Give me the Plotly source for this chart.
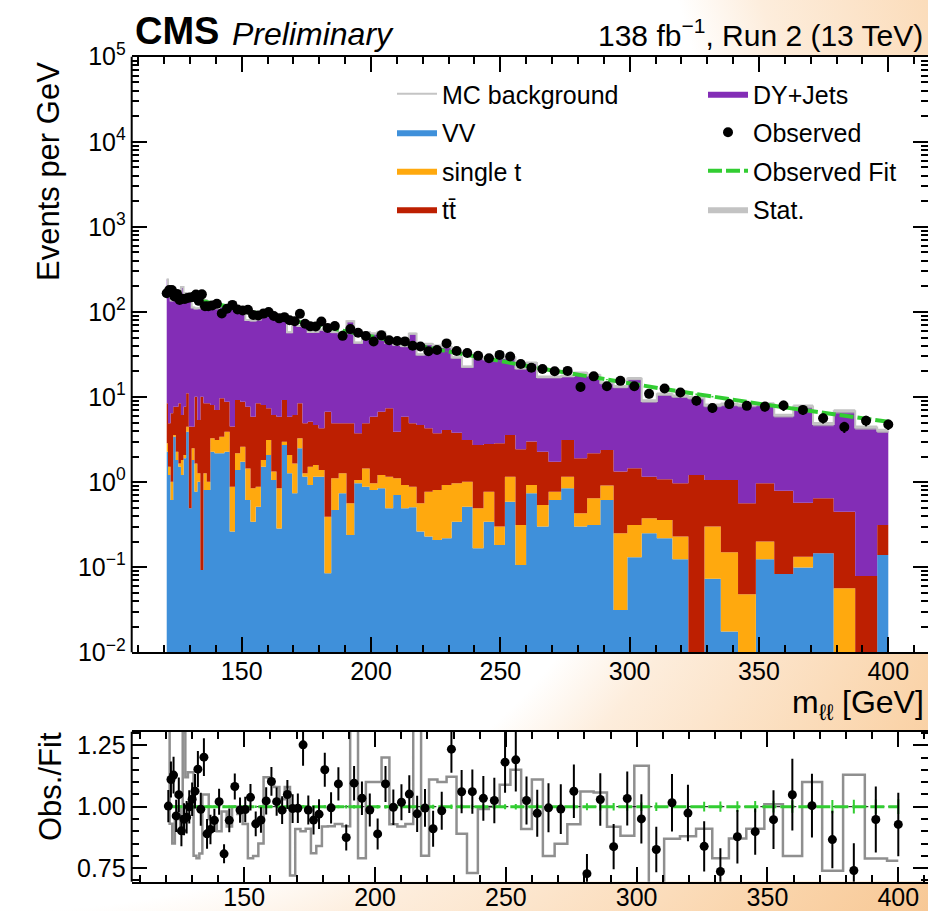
import base64
import numpy as np
import plotly.graph_objects as go

# ---------------------------------------------------------------------------
# Dilepton invariant mass spectrum: per-process MC yields (events / GeV),
# observed data and the fitted background shape, evaluated at each mass point.
# ---------------------------------------------------------------------------
mass = [121.0, 122.0, 123.0, 124.0, 125.0, 126.0, 127.0, 128.0, 129.0, 130.1,
        131.2, 132.3, 133.4, 134.6, 135.8, 137.1, 138.6, 140.4, 142.3, 144.3,
        146.4, 148.4, 150.4, 152.4, 154.4, 156.4, 158.4, 160.4, 162.4, 164.5,
        166.5, 168.5, 170.5, 172.5, 174.5, 176.5, 178.6, 180.8, 183.2, 186.0,
        189.0, 192.0, 195.0, 198.0, 201.0, 204.0, 207.0, 210.1, 213.1, 216.1,
        219.1, 222.2, 225.5, 229.2, 233.1, 237.2, 241.4, 245.6, 249.7, 253.8,
        257.9, 262.0, 266.3, 271.0, 276.0, 281.0, 286.1, 291.2, 296.4, 301.8,
        307.5, 313.5, 319.6, 325.8, 332.0, 338.5, 345.3, 352.3, 359.5, 367.0,
        374.8, 383.0, 391.4, 400.0]

vv = [2.28, 1.21, 0.617, 3.42, 1.82, 1.52, 1.21, 1.91, 3.92, 0.493,
      1.82, 0.77, 1.01, 0.093, 0.81, 0.81, 2.28, 2.18, 2.18, 2.28,
      0.262, 1.39, 1.74, 0.617, 0.343, 0.514, 1.52, 2.08, 1.06, 0.286,
      2.73, 1.27, 0.74, 2.50, 1.16, 0.925, 1.16, 1.16, 0.085, 0.471,
      0.74, 0.239, 0.97, 0.885, 0.81, 0.85, 0.493, 0.706, 0.493, 0.506,
      0.262, 0.229, 0.209, 0.219, 0.343, 0.514, 0.167, 0.343, 0.183, 0.589,
      0.106, 0.74, 0.30, 0.617, 0.85, 0.30, 0.313, 0.617, 0.0314, 0.131,
      0.25, 0.219, 0.124, 0.0, 0.073, 0.0175, 0.0, 0.124, 0.083, 0.099,
      0.146, 0.0, 0.0, 0.139]

single_t = [0.58, 0.31, 0.393, 0.16, 0.46, 0.14, 0.61, 0.17, 0.57, 0.0,
            0.68, 0.89, 0.26, 0.0, 0.46, 0.20, 0.99, 0.95, 1.24, 1.64,
            0.623, 0.79, 0.87, 0.833, 0.507, 0.371, 0.30, 1.05, 0.27, 0.564,
            0.26, 0.81, 0.92, 0.77, 0.11, 0.595, 0.43, 0.23, 0.308, 0.639,
            0.53, 0.325, 0.09, 0.565, 0.16, 0.36, 0.667, 0.404, 0.432, 0.379,
            0.302, 0.541, 0.601, 0.706, 0.627, 0.496, 0.326, 0.427, 0.117, 0.571,
            0.207, 0.185, 0.239, 0.153, 0.31, 0.13, 0.332, 0.293, 0.219, 0.182,
            0.126, 0.14, 0.105, 0.0, 0.227, 0.1325, 0.048, 0.076, 0.0, 0.034,
            0.0, 0.0565, 0.0, 0.0]

ttbar = [5.59, 3.40, 5.43, 4.13, 5.43, 6.79, 4.33, 5.63, 6.61, 4.00,
         1.99, 8.44, 4.10, 10.0, 7.18, 7.44, 4.80, 3.92, 6.24, 4.91,
         3.61, 7.05, 6.22, 6.26, 5.03, 7.57, 6.25, 4.25, 4.82, 5.03,
         6.24, 3.80, 4.49, 5.18, 3.65, 3.62, 3.11, 2.90, 6.34, 3.81,
         3.65, 4.36, 2.69, 3.47, 4.91, 5.52, 6.22, 2.81, 4.96, 4.04,
         4.14, 3.52, 2.94, 3.18, 2.83, 2.12, 2.24, 2.03, 2.56, 2.42,
         2.12, 2.08, 1.74, 0.97, 1.97, 1.48, 1.54, 1.48, 1.08, 1.14,
         0.784, 0.721, 0.741, 1.21, 0.76, 0.91, 0.516, 0.77, 0.707, 0.441,
         0.499, 0.3935, 0.079, 0.174]

dy_jets = [231.7, 146.7, 129.9, 142.3, 147.7, 132.3, 189.8, 158.4, 155.5, 159.2,
           108.4, 99.6, 105.1, 130.6, 129.6, 114.0, 109.1, 103.2, 107.0, 97.3,
           107.3, 96.0, 89.0, 73.0, 73.4, 73.3, 96.5, 92.3, 88.9, 82.0,
           80.2, 52.0, 64.9, 59.9, 62.2, 52.9, 53.7, 57.6, 53.2, 53.2,
           50.2, 72.6, 39.8, 53.2, 49.8, 51.6, 35.9, 37.2, 34.0, 50.7,
           26.9, 37.8, 36.2, 34.7, 25.4, 19.6, 26.5, 25.1, 26.0, 25.4,
           19.3, 22.2, 14.9, 15.5, 14.6, 17.2, 15.8, 12.3, 11.9, 15.0,
           7.82, 9.71, 9.24, 8.62, 6.92, 7.13, 7.42, 7.26, 5.27, 7.16,
           4.17, 6.34, 4.31, 3.69]

observed = [166, 181, 181, 152, 163, 138, 143, 142, 146, 148,
            150, 160, 135, 161, 117, 117, 119, 125, 96.2, 109,
            121, 107, 104, 106, 92.2, 91.0, 95.6, 99.9, 89.8, 84.1,
            86.9, 79.8, 77.6, 95.0, 72.7, 67.7, 67.4, 77.4, 64.8, 68.3,
            52.4, 62.9, 57.0, 52.1, 45.0, 53.1, 46.5, 45.5, 45.1, 40.0,
            39.3, 34.5, 35.7, 42.7, 34.8, 33.0, 30.5, 28.6, 31.3, 30.0,
            24.5, 22.1, 21.4, 20.1, 20.3, 13.1, 17.5, 13.4, 15.5, 13.4,
            10.9, 12.6, 11.3, 9.06, 7.44, 8.26, 7.88, 7.72, 7.95, 7.06,
            5.64, 4.45, 5.27, 4.76]

observed_rel_err = [0.065, 0.066, 0.066, 0.068, 0.067, 0.070, 0.069, 0.069, 0.068, 0.066,
                    0.066, 0.064, 0.068, 0.064, 0.068, 0.066, 0.050, 0.052, 0.048, 0.051,
                    0.049, 0.052, 0.052, 0.052, 0.054, 0.055, 0.054, 0.053, 0.056, 0.057,
                    0.056, 0.059, 0.060, 0.068, 0.060, 0.062, 0.062, 0.060, 0.064, 0.062,
                    0.060, 0.064, 0.066, 0.068, 0.071, 0.067, 0.072, 0.072, 0.073, 0.076,
                    0.077, 0.080, 0.079, 0.078, 0.083, 0.085, 0.088, 0.090, 0.105, 0.108,
                    0.095, 0.098, 0.100, 0.102, 0.102, 0.110, 0.104, 0.110, 0.106, 0.105,
                    0.112, 0.115, 0.118, 0.122, 0.128, 0.124, 0.105, 0.126, 0.139, 0.129,
                    0.135, 0.150, 0.142, 0.139]

fit = [165.6, 163.0, 160.4, 157.9, 155.4, 153.0, 150.7, 148.3, 146.1, 143.6,
       141.1, 138.8, 136.4, 134.0, 131.5, 128.9, 126.0, 122.5, 119.0, 115.4,
       111.8, 108.5, 105.2, 102.1, 99.1, 96.2, 93.4, 90.6, 88.0, 85.3,
       82.8, 80.4, 78.1, 75.9, 73.7, 71.6, 69.5, 67.3, 65.1, 62.5,
       59.9, 57.4, 55.1, 52.8, 50.6, 48.6, 46.6, 44.7, 42.9, 41.2,
       39.5, 37.9, 36.3, 34.6, 32.8, 31.1, 29.5, 27.9, 26.5, 25.2,
       23.9, 22.7, 21.5, 20.3, 19.1, 18.0, 17.0, 16.0, 15.0, 14.1,
       13.2, 12.4, 11.6, 10.8, 10.1, 9.41, 8.77, 8.15, 7.58, 7.03,
       6.51, 6.01, 5.56, 5.13]

fit_rel_err = [0.005, 0.005, 0.005, 0.005, 0.005, 0.005, 0.005, 0.005, 0.005, 0.005,
               0.005, 0.005, 0.005, 0.005, 0.005, 0.005, 0.005, 0.005, 0.005, 0.005,
               0.005, 0.005, 0.005, 0.005, 0.005, 0.005, 0.005, 0.005, 0.005, 0.005,
               0.006, 0.006, 0.006, 0.006, 0.006, 0.006, 0.006, 0.006, 0.006, 0.006,
               0.007, 0.007, 0.007, 0.007, 0.007, 0.007, 0.007, 0.007, 0.008, 0.008,
               0.008, 0.008, 0.009, 0.009, 0.009, 0.009, 0.010, 0.010, 0.010, 0.011,
               0.011, 0.012, 0.012, 0.013, 0.013, 0.014, 0.015, 0.015, 0.016, 0.017,
               0.017, 0.018, 0.019, 0.020, 0.021, 0.022, 0.023, 0.024, 0.025, 0.026,
               0.027, 0.028, 0.029, 0.030]

mc_stat_rel_err = [0.020, 0.020, 0.021, 0.020, 0.021, 0.021, 0.020, 0.021, 0.020, 0.022,
                   0.022, 0.022, 0.022, 0.023, 0.022, 0.023, 0.023, 0.023, 0.024, 0.024,
                   0.024, 0.024, 0.025, 0.025, 0.025, 0.026, 0.025, 0.026, 0.026, 0.026,
                   0.027, 0.027, 0.027, 0.028, 0.028, 0.028, 0.029, 0.029, 0.029, 0.030,
                   0.030, 0.030, 0.031, 0.031, 0.031, 0.032, 0.032, 0.033, 0.033, 0.033,
                   0.034, 0.034, 0.035, 0.035, 0.036, 0.036, 0.037, 0.037, 0.038, 0.038,
                   0.039, 0.039, 0.040, 0.041, 0.041, 0.042, 0.043, 0.043, 0.044, 0.045,
                   0.046, 0.046, 0.047, 0.048, 0.049, 0.050, 0.051, 0.052, 0.053, 0.054,
                   0.055, 0.056, 0.057, 0.058]

x_tick_vals = [150, 200, 250, 300, 350, 400]
x_minor_vals = [110, 120, 130, 140, 160, 170, 180, 190, 210, 220, 230, 240,
                260, 270, 280, 290, 310, 320, 330, 340, 360, 370, 380, 390, 410]
y_tick_vals = [1e-2, 1e-1, 1e0, 1e1, 1e2, 1e3, 1e4, 1e5]
y_tick_text = ["10<sup>\u22122</sup>", "10<sup>\u22121</sup>", "10<sup>0</sup>",
               "10<sup>1</sup>", "10<sup>2</sup>", "10<sup>3</sup>",
               "10<sup>4</sup>", "10<sup>5</sup>"]
ratio_tick_vals = [0.75, 1.00, 1.25]
ratio_tick_text = ["0.75", "1.00", "1.25"]
ratio_minor_vals = [0.70, 0.80, 0.85, 0.90, 0.95, 1.05, 1.10, 1.15, 1.20, 1.30]

# colours (CMS palette)
C_VV = "#3f90da"
C_ST = "#ffa90e"
C_TT = "#bd1f01"
C_DY = "#832db6"
C_FIT = "#32cd32"
FONT = "Liberation Sans"

W, H = 928, 911
X_DOM = [131.7 / W, 1.0]
Y_MAIN = [1 - 652.3 / H, 1 - 56.7 / H]
Y_RATIO = [1 - 881.7 / H, 1 - 731.7 / H]

# ---------------------------------------------------------------------------
x = np.array(mass)
a_vv = np.array(vv)
a_st = np.array(single_t)
a_tt = np.array(ttbar)
a_dy = np.array(dy_jets)
a_obs = np.array(observed)
a_fit = np.array(fit)

floor = 1e-3  # below the visible log range, acts as the bottom of the stack
stack_vv = a_vv
stack_st = stack_vv + a_st
stack_tt = stack_st + a_tt
mc_total = stack_tt + a_dy

obs_err = a_obs * np.array(observed_rel_err)
fit_err = a_fit * np.array(fit_rel_err)
stat = mc_total * np.array(mc_stat_rel_err)

ratio_obs = a_obs / a_fit
ratio_obs_err = obs_err / a_fit
ratio_fit = a_fit / a_fit
ratio_fit_err = fit_err / a_fit
ratio_mc = mc_total / a_fit

fig = go.Figure()

# stacked backgrounds as step fills
fig.add_trace(go.Scatter(x=x, y=np.maximum(stack_vv * 0, floor), mode="lines",
                         line=dict(width=0, shape="hvh"), showlegend=False,
                         hoverinfo="skip"))
for y_top, color, name, rank, leg in [
        (stack_vv, C_VV, "VV", 2, "legend"),
        (stack_st, C_ST, "single t", 3, "legend"),
        (stack_tt, C_TT, "tt\u0304", 4, "legend"),
        (mc_total, C_DY, "DY+Jets", 1, "legend2")]:
    fig.add_trace(go.Scatter(x=x, y=np.maximum(y_top, floor), mode="lines",
                             line=dict(width=0, shape="hvh"), fill="tonexty",
                             fillcolor=color, name=name, legend=leg,
                             legendrank=rank, legendgroup=name))

# statistical band on total MC
fig.add_trace(go.Scatter(x=x, y=mc_total - stat, mode="lines",
                         line=dict(width=0, shape="hvh"), showlegend=False,
                         hoverinfo="skip"))
fig.add_trace(go.Scatter(x=x, y=mc_total + stat, mode="lines",
                         line=dict(width=0, shape="hvh"), fill="tonexty",
                         fillcolor="rgba(175,175,175,0.75)", name="Stat.",
                         legend="legend2", legendrank=4, legendgroup="stat"))

# total MC outline
fig.add_trace(go.Scatter(x=x, y=mc_total, mode="lines",
                         line=dict(color="#c4c4c4", width=2, shape="hvh"),
                         name="MC background", legend="legend", legendrank=1,
                         legendgroup="mc"))

# fit
fig.add_trace(go.Scatter(x=x, y=a_fit, mode="lines",
                         line=dict(color=C_FIT, width=4, dash="14px,4px"),
                         error_y=dict(type="data", array=fit_err, color=C_FIT,
                                      thickness=2, width=0),
                         name="Observed Fit", legend="legend2", legendrank=3,
                         legendgroup="fit"))

# observed
fig.add_trace(go.Scatter(x=x, y=a_obs, mode="markers",
                         marker=dict(color="black", size=10),
                         error_y=dict(type="data", array=obs_err, color="black",
                                      thickness=2, width=0),
                         name="Observed", legend="legend2", legendrank=2,
                         legendgroup="obs"))

# ---- ratio panel ----
fig.add_trace(go.Scatter(x=x, y=ratio_mc, mode="lines", xaxis="x2", yaxis="y2",
                         line=dict(color="#8f8f8f", width=2.5, shape="hvh"),
                         showlegend=False, hoverinfo="skip"))
fig.add_trace(go.Scatter(x=x, y=ratio_fit, mode="lines", xaxis="x2", yaxis="y2",
                         line=dict(color="black", width=1, dash="4px,4px"),
                         showlegend=False, hoverinfo="skip"))
fig.add_trace(go.Scatter(x=x, y=ratio_fit, mode="lines", xaxis="x2", yaxis="y2",
                         line=dict(color=C_FIT, width=3, dash="14px,4px"),
                         error_y=dict(type="data", array=ratio_fit_err,
                                      color=C_FIT, thickness=2, width=0),
                         showlegend=False))
fig.add_trace(go.Scatter(x=x, y=ratio_obs, mode="markers", xaxis="x2", yaxis="y2",
                         marker=dict(color="black", size=9),
                         error_y=dict(type="data", array=ratio_obs_err,
                                      color="black", thickness=2, width=0),
                         showlegend=False))

tick_common = dict(ticks="inside", ticklen=15, tickwidth=1.5, tickcolor="black",
                   showgrid=False, zeroline=False,
                   tickfont=dict(family=FONT, size=25, color="black"))
# x axes carry the top/bottom frame; the right frame edge falls outside the page,
# so y axes only mirror their ticks and the left edge is drawn as a shape
x_common = dict(showline=True, linewidth=2, linecolor="black", mirror="ticks",
                **tick_common)
y_common = dict(showline=False, mirror="ticks", **tick_common)

legend_common = dict(xanchor="left", yanchor="top",
                     font=dict(family=FONT, size=25), bgcolor="rgba(0,0,0,0)",
                     itemwidth=40, tracegroupgap=3, traceorder="grouped")

fig.update_layout(
    width=W, height=H,
    margin=dict(l=0, r=0, t=0, b=0, autoexpand=False),
    paper_bgcolor="white", plot_bgcolor="white",
    font=dict(family=FONT, color="black"),
    xaxis=dict(domain=X_DOM, anchor="y", range=[107.46, 415.35],
               tickvals=x_tick_vals, ticklabelstandoff=-4,
               minor=dict(tickvals=x_minor_vals, ticks="inside", ticklen=7,
                          tickwidth=1.5, tickcolor="black"),
               **x_common),
    yaxis=dict(domain=Y_MAIN, anchor="x", type="log", range=[-2, 5],
               tickvals=y_tick_vals, ticktext=y_tick_text, ticklabelstandoff=5,
               minor=dict(tickvals=[k * 10.0 ** d for d in range(-2, 5) for k in range(2, 10)],
                          ticks="inside", ticklen=7, tickwidth=1.5,
                          tickcolor="black"),
               **y_common),
    xaxis2=dict(domain=X_DOM, anchor="y2", range=[107.0, 411.35],
                tickvals=x_tick_vals, ticklabelstandoff=-8,
                minor=dict(tickvals=x_minor_vals, ticks="inside", ticklen=7,
                           tickwidth=1.5, tickcolor="black"),
                **x_common),
    yaxis2=dict(domain=Y_RATIO, anchor="x2", range=[0.695, 1.305],
                tickvals=ratio_tick_vals, ticktext=ratio_tick_text,
                ticklabelstandoff=5,
                minor=dict(tickvals=ratio_minor_vals, ticks="inside", ticklen=7,
                           tickwidth=1.5, tickcolor="black"),
                **y_common),
    legend=dict(x=392 / W, y=1 - 71 / H, **legend_common),
    legend2=dict(x=703 / W, y=1 - 71 / H, **legend_common),
)

# left frame edges
for yd in (Y_MAIN, Y_RATIO):
    fig.add_shape(type="line", xref="paper", yref="paper",
                  x0=X_DOM[0], x1=X_DOM[0], y0=yd[0], y1=yd[1],
                  line=dict(color="black", width=2), layer="above")

# text labels
ann = [
    dict(text="<b>CMS</b>", x=133 / W, y=1 - 54 / H, xanchor="left",
         yanchor="bottom", font=dict(size=38)),
    dict(text="<i>Preliminary</i>", x=230 / W, y=1 - 54 / H, xanchor="left",
         yanchor="bottom", font=dict(size=32)),
    dict(text="138 fb<sup>\u22121</sup>, Run 2 (13 TeV)", x=596 / W, y=1 - 54 / H,
         xanchor="left", yanchor="bottom", font=dict(size=30)),
    dict(text="Events per GeV", x=48 / W, y=1 - 172 / H, xanchor="center",
         yanchor="middle", textangle=-90, font=dict(size=31)),
    dict(text="m<sub>\u2113\u2113</sub> [GeV]", x=926 / W, y=1 - 704 / H,
         xanchor="right", yanchor="middle", font=dict(size=32)),
    dict(text="Obs./Fit", x=50 / W, y=1 - 787 / H, xanchor="center",
         yanchor="middle", textangle=-90, font=dict(size=31)),
]
for a in ann:
    a.update(xref="paper", yref="paper", showarrow=False)
    a["font"] = dict(family=FONT, color="black", **a["font"])
fig.update_layout(annotations=ann)

# warm radial backdrop behind the figure, with the plotting areas kept white
def area_rect(xd, yd):
    return (f'<rect x="{xd[0] * W:.1f}" y="{(1 - yd[1]) * H:.1f}" '
            f'width="{(xd[1] - xd[0]) * W:.1f}" height="{(yd[1] - yd[0]) * H:.1f}" '
            f'fill="#ffffff"/>')

svg = (f'<svg xmlns="http://www.w3.org/2000/svg" width="{W}" height="{H}" '
       f'viewBox="0 0 {W} {H}"><defs>'
       '<radialGradient id="g" gradientUnits="userSpaceOnUse" cx="23" cy="220" r="1150">'
       '<stop offset="0" stop-color="#ffffff"/>'
       '<stop offset="0.60" stop-color="#ffffff"/>'
       '<stop offset="0.67" stop-color="#fdeddc"/>'
       '<stop offset="0.88" stop-color="#fad4aa"/>'
       '<stop offset="1" stop-color="#f7c794"/>'
       '</radialGradient></defs>'
       f'<rect width="{W}" height="{H}" fill="url(#g)"/>'
       + area_rect(X_DOM, Y_MAIN) + area_rect(X_DOM, Y_RATIO) + '</svg>')
fig.add_layout_image(dict(
    source="data:image/svg+xml;base64," + base64.b64encode(svg.encode()).decode(),
    xref="paper", yref="paper", x=0, y=1, sizex=1, sizey=1,
    xanchor="left", yanchor="top", sizing="stretch", layer="below"))

fig.write_html("out.html")
